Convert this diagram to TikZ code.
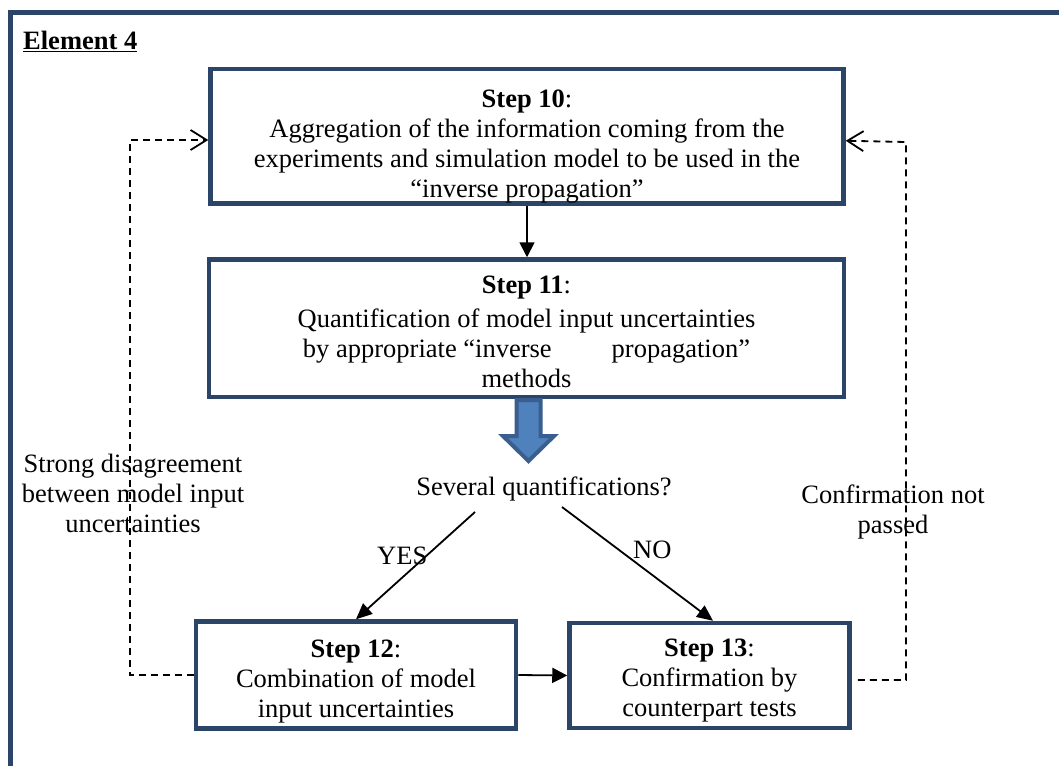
\documentclass[tikz,border=0pt]{standalone}
\usepackage{fontspec}
\setmainfont{Liberation Serif}
\usetikzlibrary{arrows.meta}
\definecolor{boxblue}{HTML}{2A4568}
\definecolor{arrowfill}{HTML}{4F81BD}
\definecolor{arrowedge}{HTML}{3A5F8E}
% invisible strut that makes a first line taller, lowering the text block in its box
\newcommand{\tallline}[1]{\rule{0pt}{#1}}
\tikzset{
  basefont/.style={font=\fontsize{26.5}{30}\selectfont},
  stepbox/.style={draw=boxblue, line width=4.5pt, fill=white, align=center,
    inner sep=0pt, basefont},
  lbl/.style={align=center, inner sep=0pt, basefont},
  flow/.style={line width=1.8pt, -{Triangle[length=15pt,width=15pt]}},
  branch/.style={line width=1.8pt, -{Triangle[length=16pt,width=14pt]}},
  feedback/.style={line width=1.8pt, dash pattern=on 7pt off 5pt,
    -{Straight Barb[length=16pt,width=20pt]}},
  frame/.style={draw=boxblue, line width=4.5pt, line join=miter},
  blockarrow/.style={draw=arrowedge, fill=arrowfill, line width=4pt, line join=miter},
}
\begin{document}
\begin{tikzpicture}[x=1pt,y=-1pt]
\useasboundingbox (0,0) rectangle (1059,765);
\fill[white] (0,0) rectangle (1059,765);

% outer frame (continues past the right and bottom edges)
\draw[frame] (10.5,780) -- (10.5,12.5) -- (1075,12.5);

\node[lbl, anchor=base west] (title) at (23,50) {\textbf{\underline{Element 4}}};

% process steps
\node[stepbox, minimum width=633pt, minimum height=131.5pt] (s10) at (527,136.25)
  {\tallline{38.5pt}\textbf{Step 10}:\\Aggregation of the information coming from the\\experiments and simulation model to be used in the\\“inverse propagation”};
\node[stepbox, minimum width=635pt, minimum height=137.5pt] (s11) at (526.5,328.25)
  {\tallline{24.5pt}\textbf{Step 11}:\\[4pt]Quantification of model input uncertainties\\by appropriate “inverse\hspace{60pt}propagation”\\methods};
\node[stepbox, minimum width=320pt, minimum height=107pt] (s12) at (356,675)
  {\tallline{30.5pt}\textbf{Step 12}:\\Combination of model\\input uncertainties};
\node[stepbox, minimum width=280pt, minimum height=105pt] (s13) at (709.5,675.5)
  {\tallline{28.5pt}\textbf{Step 13}:\\Confirmation by\\counterpart tests};

% broad arrow below step 11
\draw[blockarrow] (516.5,400) -- (540.5,400) -- (540.5,436) -- (554,436) -- (528.5,461)
  -- (503,436) -- (516.5,436) -- cycle;

% decision
\node[lbl, anchor=base] (q) at (544,495) {Several quantifications?};
\coordinate (yesstart) at (475,512);
\coordinate (nostart) at (562,507);
\node[lbl, anchor=base west] (yes) at (377,564) {YES};
\node[lbl, anchor=base west] (no) at (633,558) {NO};

% side notes
\node[lbl] (disagree) at (133,493) {Strong disagreement\\between model input\\uncertainties};
\node[lbl] (notpassed) at (893,512) {Confirmation not\\passed};

% connectors
\draw[flow] (s10.south) -- (s10.south |- s11.north);
\draw[flow] (s12.east) -- (s13.west);
\draw[branch] (yesstart) -- (s12.north);
\draw[branch] (nostart) -- ([xshift=3.5pt]s13.north);

% feedback loops
\coordinate (ltop) at (130,140);
\coordinate (rtop) at (906,142);
\draw[feedback] (s12.west) -| (ltop) -- (ltop -| s10.west);
\draw[feedback] ([xshift=6pt,yshift=-4.5pt]s13.east) -| (rtop) -- ([yshift=-4.5pt]s10.east);
\end{tikzpicture}
\end{document}
